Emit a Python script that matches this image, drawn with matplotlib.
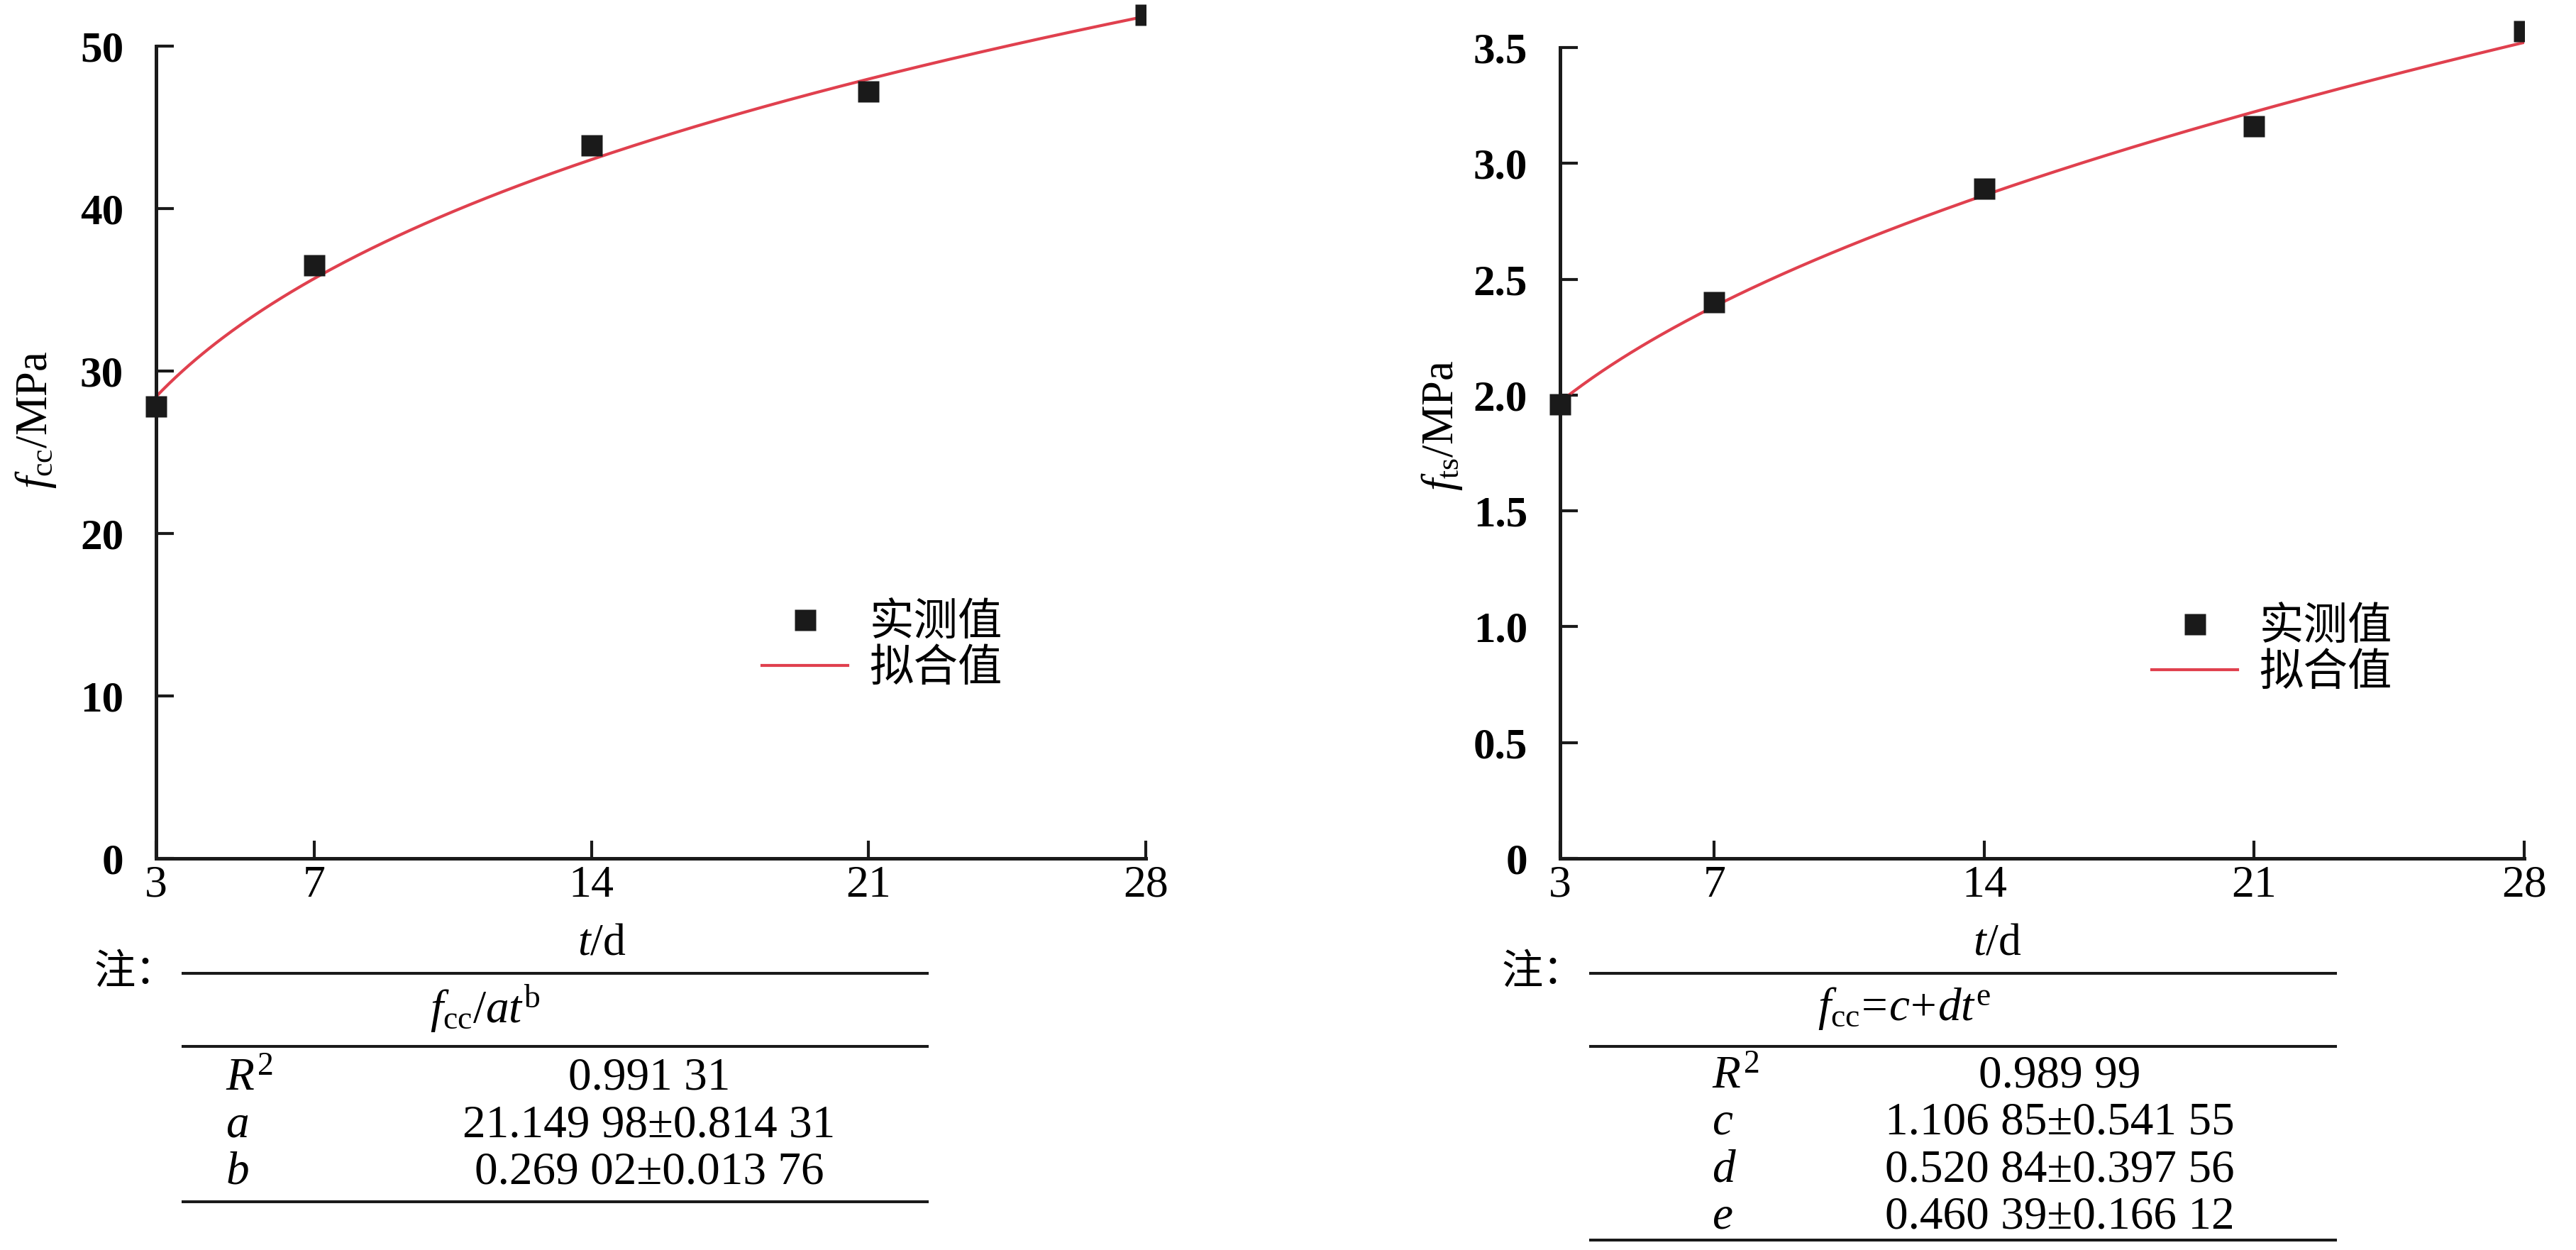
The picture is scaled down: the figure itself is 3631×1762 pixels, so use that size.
import numpy as np
import matplotlib
matplotlib.use("Agg")
import matplotlib.pyplot as plt
from matplotlib.lines import Line2D
from matplotlib.patches import Rectangle

plt.rcParams['font.family'] = ['Liberation Serif', 'Noto Sans CJK SC', 'DejaVu Sans']
plt.rcParams['mathtext.fontset'] = 'custom'
plt.rcParams['mathtext.rm'] = 'Liberation Serif'
plt.rcParams['mathtext.it'] = 'Liberation Serif:italic'
plt.rcParams['mathtext.bf'] = 'Liberation Serif:bold'

days = [3, 7, 14, 21, 28]
fcc_measured = [27.8, 36.5, 43.9, 47.2, 51.9]
fts_measured = [1.96, 2.40, 2.89, 3.16, 3.57]

# fit parameters from the tables
fcc_ab = [21.14998, 0.26902]
fts_cde = [1.10685, 0.52084, 0.46039]

fcc_yticks = [0, 10, 20, 30, 40, 50]
fcc_yticklabels = ["0", "10", "20", "30", "40", "50"]
fts_yticks = [0, 0.5, 1.0, 1.5, 2.0, 2.5, 3.0, 3.5]
fts_yticklabels = ["0", "0.5", "1.0", "1.5", "2.0", "2.5", "3.0", "3.5"]

legend_labels = ["实测值", "拟合值"]

left_header = r"$f_{\rm cc}/at^{\rm b}$"
left_names = [r"$R^2$", r"$a$", r"$b$"]
left_values = ["0.991 31", "21.149 98±0.814 31", "0.269 02±0.013 76"]

right_header = r"$f_{\rm cc}\!=\!c\!+\!dt^{\rm e}$"
right_names = [r"$R^2$", r"$c$", r"$d$", r"$e$"]
right_values = ["0.989 99", "1.106 85±0.541 55", "0.520 84±0.397 56", "0.460 39±0.166 12"]

W, H = 3631, 1762
RED = "#e0404e"
CJK = ["Noto Sans CJK SC", "DejaVu Sans"]

fig = plt.figure(figsize=(W / 100, H / 100), dpi=100)


def fx(px):
    return px / W


def fy(py):
    return 1 - py / H


def draw_panel(ax, y_meas, t_fit, y_fit, yticks, yticklabels, legend_xy):
    fit_line, = ax.plot(t_fit, y_fit, color=RED, lw=3.0, label=legend_labels[1], zorder=2)
    pts, = ax.plot(days, y_meas, 's', color="#1a1a1a", ms=21, mec="none",
                   label=legend_labels[0], zorder=3)
    # clip only at the right edge, let things run above the top
    fit_line.set_clip_path(Rectangle((-0.2, -0.2), 1.2, 1.4, transform=ax.transAxes))
    pts.set_clip_path(Rectangle((-0.2, -0.2), 1.2, 1.4, transform=ax.transAxes))

    ax.set_xlim(3, 28)
    ax.set_ylim(yticks[0], yticks[-1])
    ax.set_xticks(days)
    ax.set_xticklabels([str(d) for d in days])
    ax.set_yticks(yticks)
    ax.set_yticklabels(yticklabels)
    for s in ["top", "right"]:
        ax.spines[s].set_visible(False)
    for s in ["left", "bottom"]:
        ax.spines[s].set_linewidth(3.6)
        ax.spines[s].set_color("#1a1a1a")
    ax.tick_params(direction="in", length=18, width=3, color="#1a1a1a")
    ax.tick_params(axis="y", pad=33, labelsize=44)
    ax.tick_params(axis="x", pad=7, labelsize=46)
    for lab in ax.get_yticklabels():
        lab.set_fontweight("bold")

    handles, labels = ax.get_legend_handles_labels()
    ax.legend(handles[::-1], labels[::-1], loc="center left",
              bbox_to_anchor=legend_xy, bbox_transform=fig.transFigure,
              frameon=False, prop={"family": CJK, "size": 45},
              handlelength=1.94, handletextpad=0.48, labelspacing=0.0,
              borderpad=0, borderaxespad=0, numpoints=1)


def draw_table(x0, x1, note_x, rule_ys, header_x, header, names, values,
               row_ys, name_x, value_x):
    fig.text(fx(note_x), fy(1370), "注：", family=CJK, fontsize=42,
             ha="left", va="center")
    for ry in rule_ys:
        fig.add_artist(Line2D([fx(x0), fx(x1)], [fy(ry), fy(ry)],
                              transform=fig.transFigure, color="#1a1a1a", lw=2.9))
    fig.text(fx(header_x), fy(1422), header, fontsize=47, ha="center", va="center")
    for name, val, ry in zip(names, values, row_ys):
        fig.text(fx(name_x), fy(ry), name, fontsize=47, ha="left", va="center")
        fig.text(fx(value_x), fy(ry), val, fontsize=47, ha="center", va="center")


t_fit = np.linspace(3, 28, 300)

ax1 = fig.add_axes([fx(220), fy(1210), fx(1615 - 220), (1210 - 65) / H])
fcc_fit = fcc_ab[0] * t_fit ** fcc_ab[1]
draw_panel(ax1, fcc_measured, t_fit, fcc_fit, fcc_yticks, fcc_yticklabels,
           (fx(1074), fy(910)))

ax2 = fig.add_axes([fx(2199), fy(1210), fx(3558 - 2199), (1210 - 67) / H])
fts_fit = fts_cde[0] + fts_cde[1] * t_fit ** fts_cde[2]
draw_panel(ax2, fts_measured, t_fit, fts_fit, fts_yticks, fts_yticklabels,
           (fx(3033), fy(916)))

# axis titles
fig.text(fx(50), fy(592), r"$f_{\rm cc}$/MPa", fontsize=45, rotation=90,
         ha="center", va="center")
fig.text(fx(2032), fy(600), r"$f_{\rm ts}$/MPa", fontsize=45, rotation=90,
         ha="center", va="center")
fig.text(fx(848), fy(1330), r"$t$/d", fontsize=46, ha="center", va="center")
fig.text(fx(2815), fy(1330), r"$t$/d", fontsize=46, ha="center", va="center")

# tables under the charts
draw_table(258, 1307, 133, [1372, 1475, 1694], 684, left_header,
           left_names, left_values, [1520, 1587, 1653], 318, 915)
draw_table(2242, 3292, 2117, [1372, 1475, 1748], 2684, right_header,
           right_names, right_values, [1517, 1583, 1650, 1716], 2413, 2903)

fig.savefig("out.png", dpi=100, facecolor="white")
